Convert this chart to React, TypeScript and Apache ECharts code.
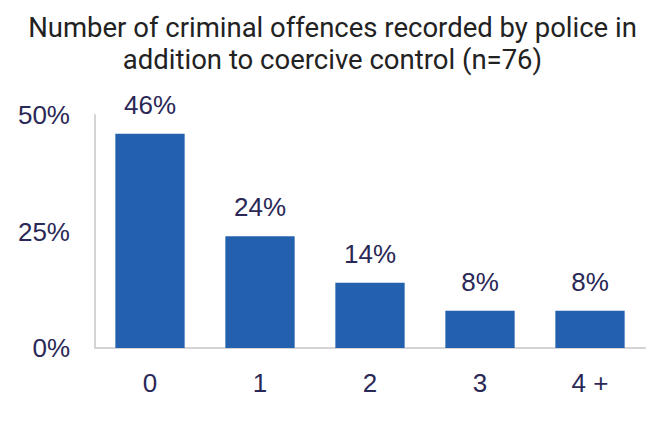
import React, { useEffect, useRef } from "react";
import * as echarts from "echarts";

const titleLines = ["Number of criminal offences recorded by police in", "addition to coercive control (n=76)"];
const categories = ["0", "1", "2", "3", "4 +"];
const values = [46, 24, 14, 8, 8];
const yTicks = [0, 25, 50];

export default function App() {
  const ref = useRef<HTMLDivElement>(null);
  useEffect(() => {
    if (!ref.current) return;
    const chart = echarts.init(ref.current, null, { renderer: "svg" });
    chart.setOption({
      animation: false,
      backgroundColor: "#ffffff",
      title: {
        text: titleLines.join("\n"),
        left: "center",
        top: 6,
        textStyle: {
          fontFamily: "Roboto",
          fontWeight: "normal",
          fontSize: 27.5,
          lineHeight: 32,
          color: "#222222",
        },
      },
      grid: { left: 95, right: 20, top: 115, bottom: 79, containLabel: false },
      xAxis: {
        type: "category",
        data: categories,
        axisLine: { show: true, lineStyle: { color: "#d4d4d4", width: 2 } },
        axisTick: { show: false },
        axisLabel: {
          margin: 22,
          fontFamily: "Liberation Sans, Arial",
          fontSize: 26,
          color: "#2a2856",
        },
      },
      yAxis: {
        type: "value",
        min: yTicks[0],
        max: yTicks[yTicks.length - 1],
        interval: 25,
        splitLine: { show: false },
        axisLine: { show: true, lineStyle: { color: "#d4d4d4", width: 2 } },
        axisTick: { show: false },
        axisLabel: {
          margin: 25,
          fontFamily: "Liberation Sans, Arial",
          fontSize: 26,
          color: "#2a2856",
          formatter: (v: number) => `${v}%`,
        },
      },
      series: [
        {
          type: "bar",
          data: values,
          barWidth: "63%",
          itemStyle: { color: "#2361ae" },
          label: {
            show: true,
            position: "top",
            distance: 16,
            fontFamily: "Liberation Sans, Arial",
            fontSize: 26,
            color: "#2a2856",
            formatter: (p: any) => `${p.value}%`,
          },
        },
      ],
    });
    return () => chart.dispose();
  }, []);
  return (
    <div
      ref={ref}
      style={{ position: "fixed", left: 0, top: 0, width: 665, height: 427 }}
    />
  );
}
